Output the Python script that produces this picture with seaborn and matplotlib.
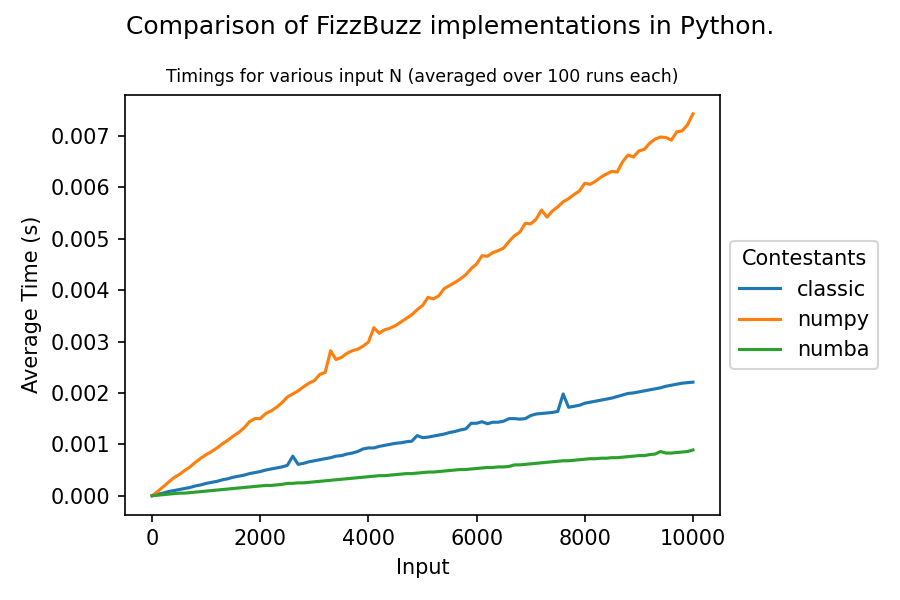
import numpy as np
import pandas as pd
import matplotlib
matplotlib.use("Agg")
import matplotlib.pyplot as plt
import seaborn as sns

# Input sizes N = 0, 100, ..., 10000
inputs = list(range(0, 10001, 100))

# Average timings in milliseconds
classic_ms = [
    0.00, 0.03, 0.05, 0.08, 0.10, 0.12, 0.14, 0.16, 0.19, 0.21,
    0.24, 0.26, 0.28, 0.31, 0.33, 0.36, 0.38, 0.40, 0.43, 0.45,
    0.47, 0.50, 0.52, 0.54, 0.56, 0.59, 0.77, 0.61, 0.63, 0.66,
    0.68, 0.70, 0.72, 0.74, 0.77, 0.78, 0.81, 0.83, 0.86, 0.91,
    0.93, 0.93, 0.96, 0.98, 1.00, 1.02, 1.03, 1.05, 1.06, 1.17,
    1.13, 1.14, 1.16, 1.18, 1.20, 1.23, 1.25, 1.28, 1.30, 1.41,
    1.41, 1.44, 1.40, 1.43, 1.43, 1.45, 1.50, 1.50, 1.49, 1.50,
    1.56, 1.59, 1.60, 1.61, 1.62, 1.64, 1.98, 1.72, 1.74, 1.76,
    1.80, 1.82, 1.84, 1.86, 1.88, 1.90, 1.93, 1.96, 1.99, 2.00,
    2.02, 2.04, 2.06, 2.08, 2.10, 2.13, 2.15, 2.17, 2.19, 2.20,
    2.21,
]
numpy_ms = [
    0.00, 0.08, 0.17, 0.26, 0.35, 0.41, 0.49, 0.56, 0.65, 0.73,
    0.80, 0.86, 0.93, 1.01, 1.08, 1.16, 1.23, 1.32, 1.44, 1.50,
    1.50, 1.60, 1.65, 1.72, 1.81, 1.92, 1.98, 2.04, 2.12, 2.19,
    2.24, 2.36, 2.40, 2.82, 2.65, 2.69, 2.77, 2.82, 2.85, 2.91,
    2.99, 3.27, 3.16, 3.23, 3.26, 3.31, 3.38, 3.45, 3.52, 3.62,
    3.70, 3.86, 3.83, 3.89, 4.03, 4.09, 4.15, 4.22, 4.30, 4.42,
    4.51, 4.67, 4.66, 4.73, 4.77, 4.82, 4.95, 5.06, 5.13, 5.30,
    5.29, 5.38, 5.56, 5.42, 5.54, 5.62, 5.72, 5.78, 5.86, 5.93,
    6.08, 6.06, 6.12, 6.20, 6.26, 6.31, 6.30, 6.50, 6.63, 6.59,
    6.71, 6.74, 6.86, 6.94, 6.98, 6.97, 6.92, 7.08, 7.10, 7.22,
    7.43,
]
numba_ms = [
    0.00, 0.01, 0.02, 0.03, 0.04, 0.05, 0.05, 0.06, 0.07, 0.08,
    0.09, 0.10, 0.11, 0.12, 0.13, 0.14, 0.15, 0.16, 0.17, 0.18,
    0.19, 0.20, 0.20, 0.21, 0.22, 0.24, 0.24, 0.25, 0.25, 0.26,
    0.27, 0.28, 0.29, 0.30, 0.31, 0.32, 0.33, 0.34, 0.35, 0.36,
    0.37, 0.38, 0.39, 0.39, 0.40, 0.41, 0.42, 0.43, 0.43, 0.44,
    0.45, 0.46, 0.46, 0.47, 0.48, 0.49, 0.50, 0.51, 0.51, 0.52,
    0.53, 0.54, 0.55, 0.55, 0.56, 0.56, 0.57, 0.60, 0.60, 0.61,
    0.62, 0.63, 0.64, 0.65, 0.66, 0.67, 0.68, 0.68, 0.69, 0.70,
    0.71, 0.72, 0.72, 0.73, 0.73, 0.74, 0.74, 0.75, 0.76, 0.77,
    0.78, 0.78, 0.80, 0.81, 0.86, 0.83, 0.83, 0.84, 0.85, 0.86,
    0.89,
]

contestants = ["classic", "numpy", "numba"]

# Long-form table for seaborn, timings in seconds
frames = []
for name, values in zip(contestants, [classic_ms, numpy_ms, numba_ms]):
    frames.append(pd.DataFrame({
        "Input": inputs,
        "Average Time (s)": np.array(values) / 1000.0,
        "Contestants": name,
    }))
df = pd.concat(frames, ignore_index=True)

fig, ax = plt.subplots(figsize=(6, 4), dpi=150)
sns.lineplot(data=df, x="Input", y="Average Time (s)", hue="Contestants",
             hue_order=contestants, ax=ax)

fig.suptitle("Comparison of FizzBuzz implementations in Python.", fontsize=12, y=0.975)
ax.set_title("Timings for various input N (averaged over 100 runs each)", fontsize="small")
ax.legend(title="Contestants", loc="center left", bbox_to_anchor=(1.0, 0.5))

fig.subplots_adjust(left=0.139, right=0.8, top=0.842, bottom=0.142)
fig.savefig("out.png", dpi=150)
